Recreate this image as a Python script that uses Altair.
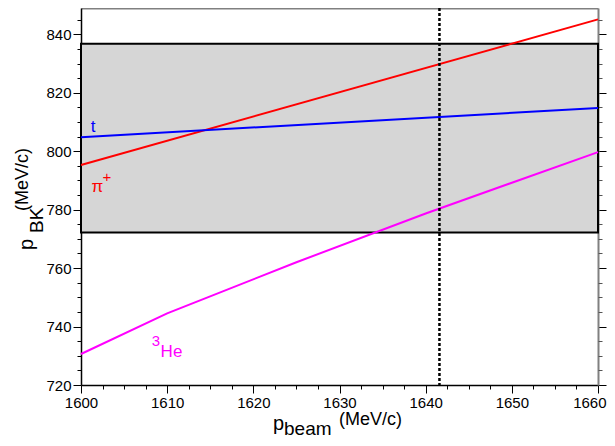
import altair as alt
import pandas as pd

# ---------------- data ----------------
beam_pi = [1600, 1660]
p_pi = [795.3, 845.1]

beam_t = [1600, 1660]
p_t = [804.8, 814.8]

beam_he = [1600, 1610, 1625, 1640, 1660]
p_he = [730.6, 744.5, 762.0, 778.7, 799.7]

box_x = [1600, 1660]
box_y = [772.2, 836.8]

beam_cut = 1641.6

x_major = [1600, 1610, 1620, 1630, 1640, 1650]
x_last = [1660]
x_minor = [1602.5, 1605, 1607.5, 1612.5, 1615, 1617.5, 1622.5, 1625, 1627.5,
           1632.5, 1635, 1637.5, 1642.5, 1645, 1647.5, 1652.5, 1655, 1657.5]
y_major = [720, 740, 760, 780, 800, 820, 840]
y_minor = [725, 730, 735, 745, 750, 755, 765, 770, 775, 785, 790, 795,
           805, 810, 815, 825, 830, 835, 845]

label_text = ["t", "π", "+", "3", "He"]
label_x = [1601.4, 1601.9, 1603.0, 1608.7, 1610.5]
label_y = [808.3, 787.8, 791.3, 735.0, 731.3]
label_size = [17, 17, 15, 15, 17]
label_color = ["#0000ff", "#ff0000", "#ff0000", "#ff00ff", "#ff00ff"]

FONT = "Liberation Sans"

# ---------------- tables ----------------
lines = pd.DataFrame(
    [{"beam": b, "p": v, "s": "pi"} for b, v in zip(beam_pi, p_pi)]
    + [{"beam": b, "p": v, "s": "t"} for b, v in zip(beam_t, p_t)]
    + [{"beam": b, "p": v, "s": "he"} for b, v in zip(beam_he, p_he)]
)
box = pd.DataFrame({"x": [box_x[0]], "x2": [box_x[1]], "y": [box_y[0]], "y2": [box_y[1]]})
cut = pd.DataFrame({"x": [beam_cut]})
labels = pd.DataFrame({"t": label_text, "x": label_x, "y": label_y,
                       "size": label_size, "c": label_color})
anchor = pd.DataFrame({"x": [1600], "y": [720]})

xs = alt.Scale(domain=[1600, 1660], nice=False, zero=False)
ys = alt.Scale(domain=[720, 849], nice=False, zero=False)

# ---------------- marks ----------------
box_layer = alt.Chart(box).mark_rect(fill="#d6d6d6", stroke="black", strokeWidth=2).encode(
    x=alt.X("x:Q", scale=xs, axis=None), x2="x2:Q",
    y=alt.Y("y:Q", scale=ys, axis=None), y2="y2:Q")

line_layer = alt.Chart(lines).mark_line(strokeWidth=2).encode(
    x=alt.X("beam:Q", scale=xs, axis=None),
    y=alt.Y("p:Q", scale=ys, axis=None),
    color=alt.Color("s:N", scale=alt.Scale(domain=["pi", "t", "he"],
                                           range=["#ff0000", "#0000ff", "#ff00ff"]),
                    legend=None),
    detail="s:N")

cut_layer = alt.Chart(cut).mark_rule(color="black", strokeWidth=2.5, strokeDash=[3, 2]).encode(
    x=alt.X("x:Q", scale=xs, axis=None))

label_layer = alt.Chart(labels).mark_text(font=FONT, align="center", baseline="middle").encode(
    x=alt.X("x:Q", scale=xs, axis=None),
    y=alt.Y("y:Q", scale=ys, axis=None),
    text="t:N",
    size=alt.Size("size:Q", scale=None, legend=None),
    color=alt.Color("c:N", scale=None, legend=None))


def axis_layer(xaxis, yaxis):
    return alt.Chart(anchor).mark_point(opacity=0).encode(
        x=alt.X("x:Q", scale=xs, axis=xaxis),
        y=alt.Y("y:Q", scale=ys, axis=yaxis))


common = dict(grid=False, title=None)
lab = dict(format="d", labelFont=FONT, labelFontSize=15, labelColor="black", labelPadding=2,
           labelOverlap=False)
ax_bottom = alt.Axis(orient="bottom", values=x_major, tickSize=8, tickColor="black",
                     tickWidth=1, domainColor="black", domainWidth=1.5, labelFlush=False,
                     **lab, **common)
ax_bottom_last = alt.Axis(orient="bottom", values=x_last, tickSize=8, tickColor="black",
                          tickWidth=1, domain=False, labelFlush=True, labelFlushOffset=8,
                          **lab, **common)
ax_bottom_minor = alt.Axis(orient="bottom", values=x_minor, labels=False, tickSize=4,
                           tickColor="black", tickWidth=1, domain=False, **common)
ax_top = alt.Axis(orient="top", ticks=False, labels=False, domainColor="#808080",
                  domainWidth=2, **common)
ax_left = alt.Axis(orient="left", values=y_major, tickSize=8, tickColor="black",
                   tickWidth=1, domainColor="black", domainWidth=1.5, labelFlush=False,
                   **lab, **common)
ax_left_minor = alt.Axis(orient="left", values=y_minor, labels=False, tickSize=4,
                         tickColor="black", tickWidth=1, domain=False, **common)
ax_right = alt.Axis(orient="right", values=y_major, labels=False, tickSize=8, tickColor="black",
                    tickWidth=1, domainColor="#808080", domainWidth=2, **common)
ax_right_minor = alt.Axis(orient="right", values=y_minor, labels=False, tickSize=4,
                          tickColor="#555555", tickWidth=1, domain=False, **common)

# ---------------- axis titles (composed text with sub/superscripts) ----------------
def txt(s, x, y, size, angle=0):
    return alt.Chart(anchor).mark_text(text=s, font=FONT, fontSize=size, align="left",
                                       baseline="alphabetic", angle=angle, color="black").encode(
        x=alt.value(x), y=alt.value(y))

titles = [
    txt("p", 192, 422, 20),
    txt("beam", 203, 427, 19),
    txt("(MeV/c)", 258, 417, 18),
    txt("p", -48, 242, 20, 270),
    txt("BK", -38, 225, 19, 270),
    txt("(MeV/c)", -53, 203, 18, 270),
]

layers = [box_layer, line_layer, cut_layer, label_layer,
          axis_layer(ax_bottom, ax_left),
          axis_layer(ax_bottom_minor, ax_left_minor),
          axis_layer(ax_top, ax_right),
          axis_layer(ax_bottom_last, ax_right_minor)] + titles

chart = alt.layer(*layers).resolve_axis(x="independent", y="independent").properties(
    width=517, height=377,
    autosize=alt.AutoSizeParams(type="none"),
    padding={"left": 73, "top": 0, "right": 9, "bottom": 53},
    background="white",
).configure_view(stroke=None)

chart.save("out.html", embed_options={"renderer": "svg", "actions": False})
